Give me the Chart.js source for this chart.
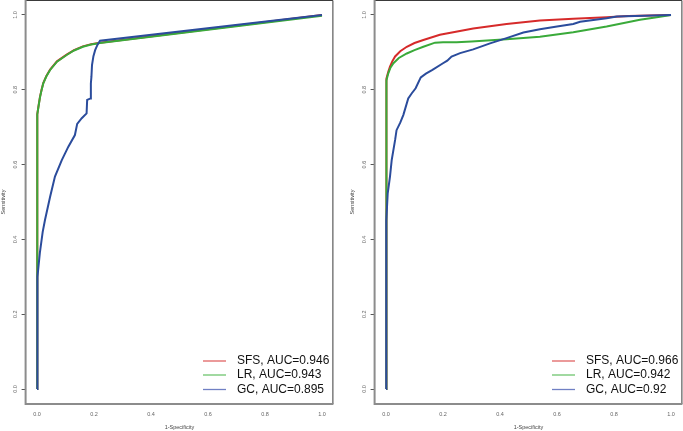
<!DOCTYPE html>
<html>
<head>
<meta charset="utf-8">
<script src="https://cdn.jsdelivr.net/npm/chart.js@4.4.1/dist/chart.umd.min.js"></script>
<style>
  html, body { margin: 0; padding: 0; background: #ffffff; }
  #wrap { position: relative; width: 683px; height: 431px; overflow: hidden; }
  #cL { position: absolute; left: 0; top: 0; }
  #cR { position: absolute; left: 341px; top: 0; }
</style>
</head>
<body>
<div id="wrap">
  <canvas id="cL" width="341" height="431"></canvas>
  <canvas id="cR" width="342" height="431"></canvas>
</div>
<script>
// ---------- data ----------
const tickValues = [0, 0.2, 0.4, 0.6, 0.8, 1.0];
const xTitle = '1-Specificity';
const yTitle = 'Sensitivity';
const seriesNames = ['SFS', 'LR', 'GC'];
const leftAUC = ['0.946', '0.943', '0.895'];
const rightAUC = ['0.966', '0.942', '0.92'];

// Left panel
const leftSfsX = [0, 0, 0.002, 0.005, 0.0105, 0.016, 0.022, 0.033, 0.046, 0.07, 0.104, 0.13, 0.161, 0.19, 0.221, 1];
const leftSfsY = [0, 0.72, 0.735, 0.755, 0.781, 0.800, 0.818, 0.837, 0.854, 0.876, 0.894, 0.906, 0.916, 0.922, 0.926, 1];
const leftLrX  = [0, 0, 0.002, 0.005, 0.0105, 0.016, 0.022, 0.033, 0.046, 0.07, 0.104, 0.13, 0.161, 0.19, 0.221, 1];
const leftLrY  = [0, 0.72, 0.734, 0.754, 0.78, 0.799, 0.817, 0.836, 0.853, 0.875, 0.893, 0.905, 0.915, 0.921, 0.925, 0.998];
const leftGcX  = [0, 0, 0.003, 0.01, 0.02, 0.028, 0.046, 0.063, 0.087, 0.11, 0.133, 0.141, 0.157, 0.174, 0.176, 0.188, 0.189, 0.191, 0.193, 0.198, 0.204, 0.212, 0.221, 1];
const leftGcY  = [0, 0.22, 0.30, 0.364, 0.42, 0.452, 0.514, 0.568, 0.612, 0.648, 0.679, 0.709, 0.724, 0.737, 0.773, 0.777, 0.817, 0.835, 0.866, 0.89, 0.906, 0.92, 0.931, 1];

// Right panel
const rightSfsX = [0, 0, 0.003, 0.008, 0.014, 0.022, 0.032, 0.05, 0.073, 0.1, 0.131, 0.189, 0.25, 0.306, 0.423, 0.54, 0.657, 0.774, 0.85, 1];
const rightSfsY = [0, 0.80, 0.83, 0.848, 0.862, 0.876, 0.889, 0.903, 0.915, 0.925, 0.933, 0.947, 0.956, 0.964, 0.976, 0.985, 0.99, 0.994, 0.997, 1];
const rightLrX  = [0, 0, 0.003, 0.008, 0.015, 0.026, 0.045, 0.073, 0.1, 0.131, 0.172, 0.2, 0.248, 0.3, 0.423, 0.54, 0.657, 0.774, 0.891, 0.95, 1];
const rightLrY  = [0, 0.79, 0.825, 0.844, 0.858, 0.871, 0.885, 0.897, 0.906, 0.915, 0.926, 0.927, 0.927, 0.929, 0.935, 0.942, 0.954, 0.969, 0.987, 0.994, 1];
const rightGcX  = [0, 0, 0.002, 0.006, 0.014, 0.02, 0.032, 0.037, 0.05, 0.061, 0.078, 0.09, 0.104, 0.122, 0.14, 0.163, 0.2, 0.215, 0.23, 0.26, 0.306, 0.365, 0.423, 0.482, 0.54, 0.6, 0.657, 0.681, 0.774, 0.81, 1];
const rightGcY  = [0, 0.30, 0.45, 0.523, 0.568, 0.612, 0.666, 0.692, 0.712, 0.733, 0.777, 0.79, 0.804, 0.833, 0.843, 0.853, 0.871, 0.878, 0.889, 0.898, 0.908, 0.924, 0.938, 0.953, 0.962, 0.969, 0.976, 0.982, 0.991, 0.996, 1];

const colors = ['#d62a2a', '#3aaa3a', '#2b4c9c'];
const legendColors = ['rgb(224,100,100)', 'rgb(110,196,110)', 'rgb(112,128,196)'];
const FONT = '"Liberation Sans", Arial, Helvetica, sans-serif';

function pts(xs, ys) { return xs.map((x, i) => ({ x: x, y: ys[i] })); }

const boxPlugin = {
  id: 'rbox',
  afterDraw(chart) {
    const { ctx, chartArea: a, scales } = chart;
    ctx.save();
    // top & right (dark, thin)
    ctx.strokeStyle = '#3a3a3a';
    ctx.lineWidth = 1;
    ctx.beginPath();
    ctx.moveTo(a.left, a.top + 0.5);
    ctx.lineTo(a.right - 0.5, a.top + 0.5);
    ctx.lineTo(a.right - 0.5, a.bottom);
    ctx.stroke();
    // left & bottom (gray, thicker)
    ctx.strokeStyle = '#8c8c8c';
    ctx.lineWidth = 2;
    ctx.beginPath();
    ctx.moveTo(a.left, a.top);
    ctx.lineTo(a.left, a.bottom);
    ctx.lineTo(a.right, a.bottom);
    ctx.stroke();

    // rotated y tick labels
    const ys = scales.y;
    ctx.fillStyle = '#666';
    ctx.font = '5.5px ' + FONT;
    ctx.textAlign = 'center';
    ctx.textBaseline = 'middle';
    ys.ticks.forEach(t => {
      const py = ys.getPixelForValue(t.value);
      ctx.save();
      ctx.translate(a.left - 10, py);
      ctx.rotate(-Math.PI / 2);
      ctx.fillText(t.value.toFixed(1), 0, 0);
      ctx.restore();
    });

    // legend (bottom-right, no box)
    const offs = [43, 29, 14.5];
    chart.data.datasets.forEach((ds, i) => {
      const y = a.bottom - offs[i];
      ctx.save();
      ctx.strokeStyle = legendColors[i];
      ctx.lineWidth = 1.3;
      ctx.lineCap = 'butt';
      ctx.beginPath();
      ctx.moveTo(a.right - 130.4, y);
      ctx.lineTo(a.right - 107.4, y);
      ctx.stroke();
      ctx.restore();
      ctx.save();
      ctx.font = '12px ' + FONT;
      ctx.textAlign = 'left';
      ctx.textBaseline = 'middle';
      ctx.fillStyle = '#111';
      ctx.fillText(ds.label, a.right - 96.4, y);
      ctx.restore();
    });
    ctx.restore();
  }
};

function makeChart(canvasId, series, aucs, padLeft, padRight) {
  const datasets = series.map((s, i) => ({
    label: seriesNames[i] + ', AUC=' + aucs[i],
    data: pts(s[0], s[1]),
    borderColor: colors[i],
    backgroundColor: colors[i],
    borderWidth: 2,
    pointRadius: 0,
    showLine: true,
    fill: false,
    tension: 0,
    order: 3 - i
  }));
  return new Chart(document.getElementById(canvasId), {
    type: 'scatter',
    data: { datasets },
    options: {
      responsive: false,
      animation: false,
      devicePixelRatio: 1,
      layout: { padding: { left: padLeft, right: padRight, top: 0, bottom: 0 } },
      plugins: { legend: { display: false }, tooltip: { enabled: false } },
      scales: {
        x: {
          type: 'linear',
          min: -0.04, max: 1.04,
          afterBuildTicks: sc => { sc.ticks = tickValues.map(v => ({ value: v })); },
          afterFit: sc => { sc.height = 27; },
          border: { display: false },
          grid: { display: true, drawOnChartArea: false, drawTicks: true, tickLength: 4, color: 'rgba(0,0,0,0)' },
          ticks: {
            padding: 3.4,
            color: '#666',
            font: { family: FONT, size: 5.5 },
            maxRotation: 0, minRotation: 0,
            callback: v => Number(v).toFixed(1)
          },
          title: { display: true, text: xTitle, color: '#444', font: { family: FONT, size: 5.5 }, padding: { top: 0, bottom: 0 } }
        },
        y: {
          type: 'linear',
          min: -0.04, max: 1.04,
          afterBuildTicks: sc => { sc.ticks = tickValues.map(v => ({ value: v })); },
          afterFit: sc => { sc.width = 25.6; },
          border: { display: false },
          grid: { display: true, drawOnChartArea: false, drawTicks: true, tickLength: 4, color: '#555', lineWidth: 1 },
          ticks: { display: false },
          title: { display: true, text: yTitle, color: '#444', font: { family: FONT, size: 5.5 }, padding: { top: 0, bottom: 0 } }
        }
      }
    },
    plugins: [boxPlugin]
  });
}

makeChart('cL', [[leftSfsX, leftSfsY], [leftLrX, leftLrY], [leftGcX, leftGcY]], leftAUC, 0, 7.6);
makeChart('cR', [[rightSfsX, rightSfsY], [rightLrX, rightLrY], [rightGcX, rightGcY]], rightAUC, 8, 0.6);
</script>
</body>
</html>
